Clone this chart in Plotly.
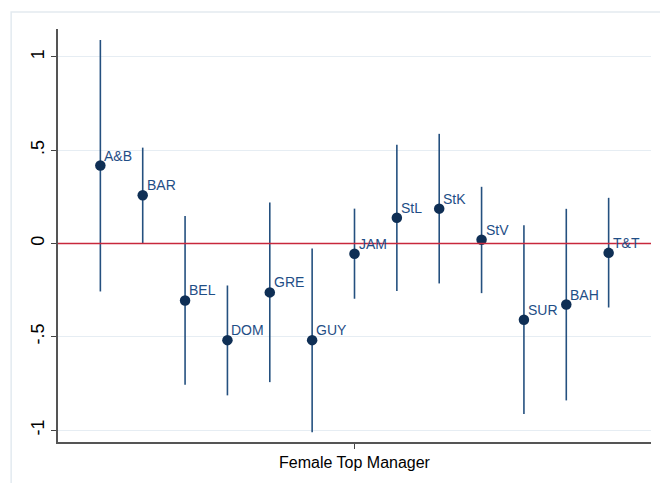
import plotly.graph_objects as go

# Coefficient estimates with 95% confidence intervals, by country
countries = ["A&B", "BAR", "BEL", "DOM", "GRE", "GUY", "JAM",
             "StL", "StK", "StV", "SUR", "BAH", "T&T"]
estimate = [0.418, 0.259, -0.305, -0.518, -0.262, -0.518, -0.055,
            0.138, 0.187, 0.020, -0.409, -0.327, -0.050]
ci_low = [-0.257, 0.000, -0.757, -0.814, -0.743, -1.012, -0.296,
          -0.255, -0.214, -0.266, -0.914, -0.841, -0.343]
ci_high = [1.091, 0.514, 0.148, -0.225, 0.220, -0.027, 0.187,
           0.529, 0.588, 0.304, 0.098, 0.186, 0.245]
y_ticks = [-1, -0.5, 0, 0.5, 1]
y_tick_text = ["-1", "-.5", "0", ".5", "1"]
x_label = "Female Top Manager"

positions = list(range(1, len(countries) + 1))
navy = "#0f2f55"
line_blue = "#24507f"

fig = go.Figure()

fig.add_trace(go.Scatter(
    x=positions,
    y=estimate,
    mode="markers",
    marker=dict(size=10.5, color=navy),
    error_y=dict(
        type="data",
        symmetric=False,
        array=[h - e for h, e in zip(ci_high, estimate)],
        arrayminus=[e - l for e, l in zip(estimate, ci_low)],
        color=line_blue,
        thickness=1.6,
        width=0,
    ),
    showlegend=False,
    hoverinfo="skip",
))

# Country labels to the upper right of each marker
for xpos, est, name in zip(positions, estimate, countries):
    fig.add_annotation(
        x=xpos, y=est, text=name, showarrow=False,
        xanchor="left", yanchor="middle", xshift=2, yshift=10,
        font=dict(family="Liberation Sans, Arial", size=14, color="#1f4e86"),
    )

# Reference line at zero
fig.add_shape(type="line", xref="paper", yref="y", x0=0, x1=1, y0=0, y1=0,
              line=dict(color="#c8283c", width=1.5), layer="above")

# Outer graph-region outline
fig.add_shape(type="rect", xref="paper", yref="paper",
              x0=-0.079, x1=1.3, y0=-0.3, y1=1.041,
              line=dict(color="#e3eaf0", width=1.5), layer="below")

fig.update_layout(
    width=660, height=483,
    margin=dict(l=58, r=9, t=29, b=41),
    paper_bgcolor="white",
    plot_bgcolor="white",
    font=dict(family="Liberation Sans, Arial", color="black"),
    xaxis=dict(
        range=[0, 14],
        tickvals=[7],
        ticktext=[x_label],
        ticks="outside", ticklen=5, tickcolor="#444",
        tickfont=dict(size=16, color="black"),
        showgrid=False, zeroline=False,
        showline=True, linecolor="#555", linewidth=1.5,
    ),
    yaxis=dict(
        range=[-1.064, 1.15],
        tickvals=y_ticks,
        ticktext=y_tick_text,
        tickangle=-90,
        ticks="outside", ticklen=5, tickcolor="#444",
        tickfont=dict(size=18, color="black"),
        showgrid=True, gridcolor="#e6edf3", gridwidth=1.2,
        zeroline=False,
        showline=True, linecolor="#555", linewidth=1.5,
    ),
)

fig.write_html("out.html")
